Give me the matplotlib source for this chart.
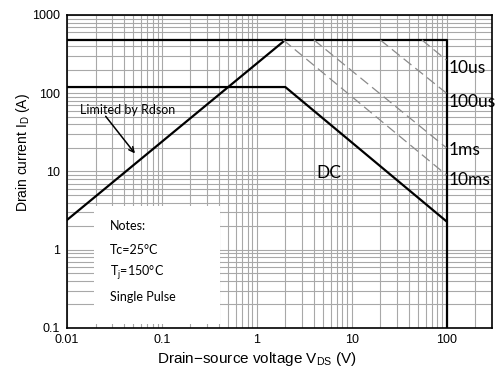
import matplotlib; matplotlib.use("Agg")
import matplotlib.pyplot as plt
from matplotlib.patches import Rectangle
from matplotlib.ticker import FixedLocator, LogLocator, NullFormatter

# --- data ---
v_limit = [0.01, 100, 100]          # package limit + BVdss
i_limit = [480, 480, 0.1]
v_dc = [0.01, 2.0, 100]
i_dc = [120, 120, 2.3]
v_rds = [0.01, 2.0]
i_rds = [2.4, 480]
pulse_labels = ["10us", "100us", "1ms", "10ms"]
pulse_v = [[55, 100], [20, 100], [4.0, 100], [1.9, 100]]
pulse_i = [[480, 265], [480, 100], [480, 20], [480, 9]]
label_y = [209, 77, 18.6, 7.7]
xticks = [0.01, 0.1, 1, 10, 100]
xticklabels = ["0.01", "0.1", "1", "10", "100"]
yticks = [0.1, 1, 10, 100, 1000]
yticklabels = ["0.1", "1", "10", "100", "1000"]
notes = ["Notes:", "Tc=25°C", "T$_\\mathregular{j}$=150°C", "Single Pulse"]
notes_y = [0.326, 0.249, 0.176, 0.099]

ARIAL = "Liberation Sans"; CAL = "Lato"

fig = plt.figure(figsize=(5.01, 3.71), dpi=100)
ax = fig.add_axes([0.1337, 0.116, 0.848, 0.8436])
ax.set_xscale("log"); ax.set_yscale("log")
ax.set_xlim(0.01, 300); ax.set_ylim(0.1, 1000)

ax.xaxis.set_major_locator(FixedLocator(xticks)); ax.set_xticklabels(xticklabels, family=ARIAL, fontsize=9)
ax.yaxis.set_major_locator(FixedLocator(yticks)); ax.set_yticklabels(yticklabels, family=ARIAL, fontsize=9)
for a in (ax.xaxis, ax.yaxis):
    a.set_minor_locator(LogLocator(base=10, subs=range(2, 10), numticks=20)); a.set_minor_formatter(NullFormatter())
ax.tick_params(which="both", length=0)
ax.tick_params(axis="x", pad=4); ax.tick_params(axis="y", pad=5)
ax.grid(which="both", color="#a8a8a8", lw=0.8)
for s in ax.spines.values(): s.set_linewidth(1.2)

# notes box hides the grid
ax.add_patch(Rectangle((0.0192, 0.1125), 0.408 - 0.0192, 3.66 - 0.1125, facecolor="white", edgecolor="none", zorder=2))

ax.plot(v_limit, i_limit, color="black", lw=1.6, zorder=3)
ax.plot(v_dc, i_dc, color="black", lw=1.6, zorder=3)
ax.plot(v_rds, i_rds, color="black", lw=1.6, zorder=3)
for v, i in zip(pulse_v, pulse_i):
    ax.plot(v, i, color="#8a8a8a", lw=0.9, ls=(0, (8, 4)), zorder=3)
for lab, y in zip(pulse_labels, label_y):
    ax.text(105, y, lab, family=CAL, fontsize=12.5, va="center", ha="left", zorder=4)
ax.text(5.7, 9.7, "DC", family=CAL, fontsize=12.5, va="center", ha="center", zorder=4)

ax.annotate("Limited by Rdson", xy=(0.052, 17), xytext=(0.0137, 60.5), family=CAL, fontsize=9,
            va="center", ha="left", zorder=4,
            arrowprops=dict(arrowstyle="->", color="black", lw=1.1, shrinkA=0, shrinkB=0,
                            patchA=None, relpos=(0.27, 0.0)))

for t, y in zip(notes, notes_y):
    ax.text(0.101, y, t, transform=ax.transAxes, family=CAL, fontsize=9, va="center", ha="left", zorder=4)

ax.set_xlabel("Drain\u2212source voltage V$_\\mathregular{DS}$ (V)", family=ARIAL, fontsize=11)
ax.xaxis.set_label_coords(0.447, -0.07)
ax.set_ylabel("Drain current I$_\\mathregular{D}$ (A)", family=ARIAL, fontsize=10)
ax.yaxis.set_label_coords(-0.082, 0.56)

fig.savefig("out.png", dpi=100)
